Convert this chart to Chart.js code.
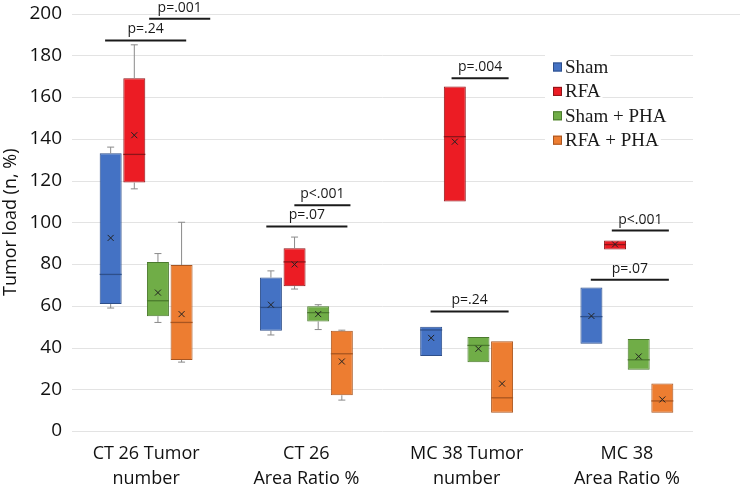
<!DOCTYPE html>
<html>
<head>
<meta charset="utf-8">
<script src="https://cdn.jsdelivr.net/npm/chart.js@4"></script>
<style>
  html, body { margin: 0; padding: 0; background: #fff; }
  #wrap { width: 740px; height: 489px; position: relative; }
</style>
</head>
<body>
<div id="wrap"><canvas id="myChart"></canvas></div>
<script>
// categories and groups
const categories = [['CT 26 Tumor', 'number'], ['CT 26', 'Area Ratio %'], ['MC 38 Tumor', 'number'], ['MC 38', 'Area Ratio %']]
const groups = ['Sham', 'RFA', 'Sham + PHA', 'RFA + PHA']

// per category: [min, q1, median, q3, max, mean]
const sham = [[58.9, 60.8, 75, 133, 136, 92.5], [46, 48, 59.2, 73.5, 76.7, 60.5], [35.9, 35.9, 48.4, 50, 50, 44.6], [41.8, 41.8, 54.8, 68.7, 68.7, 55.1]]
const rfa = [[116, 119, 132.5, 169, 185, 141.7], [68, 69.4, 81, 87.5, 92.9, 79.8], [110, 110, 141, 165, 165, 138.6], [87, 87, 89.3, 91.3, 91.3, 89.4]]
const shamPha = [[52, 55, 62.4, 81, 85, 66.3], [48.6, 52.5, 56.7, 59.8, 60.5, 56], [32.9, 32.9, 41, 45, 45, 39.4], [29.4, 29.4, 34.1, 44.1, 44.1, 35.7]]
const rfaPha = [[33, 34, 52, 79.5, 100, 56], [14.8, 17.1, 37, 48, 48.3, 33.3], [8.7, 8.7, 15.9, 43, 43, 22.7], [8.7, 8.7, 14.4, 22.7, 22.7, 15.1]]

// significance brackets: category, start/end offset (category units), level, label
const pCategory = [0, 0, 1, 1, 2, 2, 3, 3]
const pFrom = [-0.256, 0.019, -0.075, -0.25, -0.094, -0.225, -0.094, -0.225]
const pTo = [0.25, 0.40, 0.275, 0.256, 0.262, 0.262, 0.262, 0.262]
const pLevel = [187.1, 197.5, 108.2, 98, 169, 57.3, 96, 72.4]
const pText = ['p=.24', 'p=.001', 'p<.001', 'p=.07', 'p=.004', 'p=.24', 'p<.001', 'p=.07']

const yTicks = [0, 20, 40, 60, 80, 100, 120, 140, 160, 180, 200]

const fill = ['#4472C4', '#EC1C24', '#70AD47', '#ED7D31']
const dark = ['#2E4F8A', '#8E1418', '#4B7A2E', '#A85520']
const stats = [sham, rfa, shamPha, rfaPha]

const boxPlot = {
  id: 'boxPlot',
  beforeDatasetsDraw(chart) {
    const c = chart.ctx
    const y = chart.scales.y
    c.save()
    c.strokeStyle = '#e3e3e3'
    c.lineWidth = 1
    yTicks.forEach(v => {
      const py = Math.round(y.getPixelForValue(v)) + 0.5
      c.beginPath()
      c.moveTo(72, py)
      c.lineTo(v === 200 ? chart.width : 693, py)
      c.stroke()
    })
    c.restore()
  },
  afterDatasetsDraw(chart) {
    const c = chart.ctx
    const y = chart.scales.y
    c.save()
    stats.forEach((set, d) => {
      const meta = chart.getDatasetMeta(d)
      set.forEach((s, i) => {
        const bar = meta.data[i]
        const bx = bar.x
        const hw = bar.width / 2
        const [mn, q1, med, q3, mx, mean] = s
        // whiskers
        c.strokeStyle = '#8a8a8a'
        c.lineWidth = 1
        const cap = 3.5
        if (mx > q3) {
          c.beginPath()
          c.moveTo(bx, y.getPixelForValue(q3))
          c.lineTo(bx, y.getPixelForValue(mx))
          c.moveTo(bx - cap, y.getPixelForValue(mx))
          c.lineTo(bx + cap, y.getPixelForValue(mx))
          c.stroke()
        }
        if (mn < q1) {
          c.beginPath()
          c.moveTo(bx, y.getPixelForValue(q1))
          c.lineTo(bx, y.getPixelForValue(mn))
          c.moveTo(bx - cap, y.getPixelForValue(mn))
          c.lineTo(bx + cap, y.getPixelForValue(mn))
          c.stroke()
        }
        // median
        c.strokeStyle = dark[d]
        c.lineWidth = 1.3
        const my = y.getPixelForValue(med)
        c.beginPath()
        c.moveTo(bx - hw, my)
        c.lineTo(bx + hw, my)
        c.stroke()
        // mean
        const ay = y.getPixelForValue(mean)
        c.lineWidth = 1
        c.strokeStyle = '#222'
        c.beginPath()
        c.moveTo(bx - 3, ay - 3)
        c.lineTo(bx + 3, ay + 3)
        c.moveTo(bx + 3, ay - 3)
        c.lineTo(bx - 3, ay + 3)
        c.stroke()
      })
    })
    c.restore()
  },
  afterDraw(chart) {
    const c = chart.ctx
    const y = chart.scales.y
    const x = chart.scales.x
    const step = x.getPixelForValue(1) - x.getPixelForValue(0)
    c.save()
    // p value brackets
    pText.forEach((t, k) => {
      const cx = x.getPixelForValue(pCategory[k])
      const x1 = cx + pFrom[k] * step
      const x2 = cx + pTo[k] * step
      const py = y.getPixelForValue(pLevel[k])
      c.strokeStyle = '#1a1a1a'
      c.lineWidth = 2
      c.beginPath()
      c.moveTo(x1, py)
      c.lineTo(x2, py)
      c.stroke()
      c.fillStyle = '#1a1a1a'
      c.font = '14px "Open Sans"'
      c.textAlign = 'center'
      c.textBaseline = 'middle'
      c.fillText(t, (x1 + x2) / 2, py - 11)
    })
    // legend
    const lx = 553
    const ly = 67
    const gap = 24.4
    c.font = '19px "Liberation Serif"'
    c.textAlign = 'left'
    c.textBaseline = 'middle'
    groups.forEach((g, k) => {
      const cy = ly + k * gap
      const w = c.measureText(g).width
      c.fillStyle = '#fff'
      c.fillRect(lx - 8, cy - 14, w + 22, 26)
      c.fillStyle = fill[k]
      c.fillRect(lx, cy - 4.5, 9, 9)
      c.strokeStyle = dark[k]
      c.lineWidth = 1
      c.strokeRect(lx + 0.5, cy - 4, 8, 8)
      c.fillStyle = '#1a1a1a'
      c.fillText(g, lx + 12, cy + 1)
    })
    c.restore()
  }
}

const datasets = stats.map((set, d) => ({
  label: groups[d],
  data: set.map(s => [s[1], s[3]]),
  backgroundColor: fill[d],
  borderColor: dark[d],
  borderWidth: 1,
  borderSkipped: false,
  categoryPercentage: 0.59,
  barPercentage: 0.93
}))

var ctx = document.getElementById('myChart').getContext('2d')

var myChart = new Chart(ctx, {
  type: 'bar',
  data: {
    labels: categories,
    datasets: datasets
  },
  options: {
    responsive: true,
    maintainAspectRatio: false,
    animation: false,
    layout: {
      padding: { top: 11, right: 33, bottom: 0, left: 0 }
    },
    plugins: {
      legend: { display: false },
      tooltip: { enabled: false }
    },
    scales: {
      x: {
        grid: { display: false, drawTicks: false },
        border: { display: false },
        ticks: {
          color: '#111',
          font: { family: 'Open Sans', size: 18, lineHeight: 1.4 },
          padding: 10,
          maxRotation: 0
        },
        afterFit(scale) { scale.height = 58 }
      },
      y: {
        min: 0,
        max: 200,
        grid: { display: false, drawTicks: false },
        border: { display: false },
        ticks: {
          stepSize: 20,
          color: '#111',
          font: { family: 'Open Sans', size: 19, lineHeight: 1 },
          padding: 4
        },
        title: {
          display: true,
          text: 'Tumor load (n, %)',
          color: '#111',
          font: { family: 'Open Sans', size: 18 },
          padding: { top: 0, bottom: 0 }
        },
        afterFit(scale) { scale.width = 66 }
      }
    }
  },
  plugins: [boxPlot]
})
</script>
</body>
</html>
